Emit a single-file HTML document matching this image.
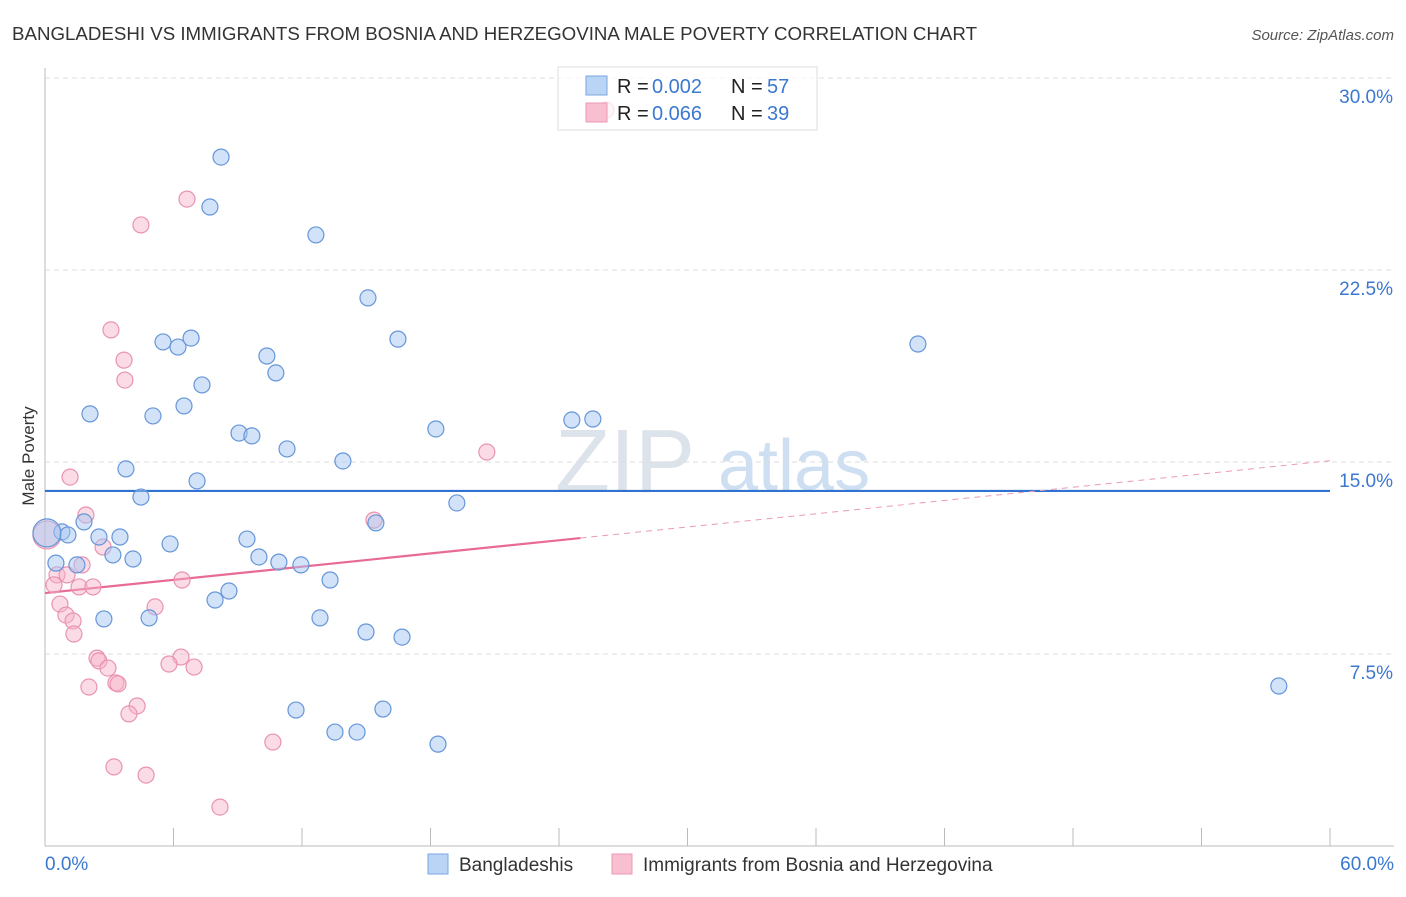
<!DOCTYPE html>
<html><head><meta charset="utf-8"><style>
body{margin:0;background:#fff;font-family:"Liberation Sans",sans-serif;}
svg text{font-family:"Liberation Sans",sans-serif;}
</style></head><body>
<svg id="chart" width="1406" height="892">
<text x="12" y="40" font-size="18" fill="#333" textLength="965" lengthAdjust="spacingAndGlyphs">BANGLADESHI VS IMMIGRANTS FROM BOSNIA AND HERZEGOVINA MALE POVERTY CORRELATION CHART</text>
<text x="1394" y="40" font-size="15" fill="#555" font-style="italic" text-anchor="end">Source: ZipAtlas.com</text>
<text x="34" y="456" font-size="17" fill="#333" text-anchor="middle" transform="rotate(-90 34 456)">Male Poverty</text>
<text x="555" y="492" font-size="90" fill="#dde3ea" font-family="Liberation Serif">ZIP</text>
<text x="718" y="490" font-size="72" fill="#cfdff2">atlas</text>
<g id="grid"></g><g id="axes"></g><g id="lines"></g><g id="pts"></g>
<g>
<rect x="558" y="67" width="259" height="63" fill="rgba(255,255,255,0.75)" stroke="#ddd"/>
<rect x="586" y="76" width="21" height="19" fill="#b9d4f5" stroke="#7aa6e0"/>
<rect x="586" y="103" width="21" height="19" fill="#f7bfd0" stroke="#eb9ab4"/>
<text x="617" y="93" font-size="20" fill="#222">R =</text><text x="652" y="93" font-size="20" fill="#3b78d0">0.002</text>
<text x="731" y="93" font-size="20" fill="#222">N =</text><text x="767" y="93" font-size="20" fill="#3b78d0">57</text>
<text x="617" y="120" font-size="20" fill="#222">R =</text><text x="652" y="120" font-size="20" fill="#3b78d0">0.066</text>
<text x="731" y="120" font-size="20" fill="#222">N =</text><text x="767" y="120" font-size="20" fill="#3b78d0">39</text>
</g>
<g>
<rect x="428" y="854" width="20" height="20" fill="#b9d4f5" stroke="#7aa6e0"/>
<text x="459" y="871" font-size="19" fill="#333">Bangladeshis</text>
<rect x="612" y="854" width="20" height="20" fill="#f7bfd0" stroke="#eb9ab4"/>
<text x="643" y="871" font-size="19" fill="#333">Immigrants from Bosnia and Herzegovina</text>
</g>
</svg>
<script>
const yTicks=[7.5,15,22.5,30];
const yTickLabels=["7.5%","15.0%","22.5%","30.0%"];
const blueX=[8.22,7.70,12.65,15.08,16.48,40.76,5.51,6.21,6.82,10.36,10.78,7.33,2.10,5.04,6.49,9.06,9.66,11.30,13.91,18.25,24.60,25.58,3.78,7.10,4.48,19.23,1.82,15.45,0.79,1.07,2.52,3.50,9.43,5.84,3.17,4.11,9.99,10.92,11.95,0.51,1.49,13.31,8.59,7.94,2.75,4.86,12.84,14.99,16.67,11.72,15.78,13.54,14.57,18.35,57.61,0.09];
const blueY=[26.91,24.96,23.87,21.41,19.80,19.61,19.69,19.49,19.84,19.14,18.48,18.01,16.88,16.80,17.19,16.13,16.02,15.51,15.04,16.29,16.64,16.68,14.73,14.26,13.63,13.40,12.66,12.62,12.27,12.15,12.07,12.07,11.99,11.80,11.37,11.21,11.29,11.09,10.98,11.05,10.98,10.39,9.96,9.61,8.87,8.91,8.91,8.36,8.16,5.31,5.35,4.45,4.45,3.98,6.25,12.23];
const pinkX=[26.19,6.63,4.48,3.08,3.69,3.73,1.17,20.63,1.91,15.36,2.71,1.73,0.56,1.03,0.42,1.59,2.24,6.40,0.70,5.14,0.98,1.31,1.35,2.43,2.52,2.94,6.35,5.79,6.96,2.05,3.31,3.41,4.30,3.92,10.64,3.22,4.72,8.17,0.09];
const pinkY=[28.75,25.27,24.26,20.16,18.98,18.20,14.41,15.39,12.93,12.73,11.68,10.98,10.59,10.59,10.20,10.12,10.12,10.39,9.45,9.34,9.02,8.79,8.28,7.34,7.23,6.95,7.38,7.11,6.99,6.21,6.37,6.33,5.47,5.16,4.06,3.09,2.77,1.52,12.15];
const blueTrend=[13.87,13.87];
const pinkTrend=[9.88,12.03,15.05];
const X=v=>45+v*1285/60, Y=v=>846-v*25.6;
const NS="http://www.w3.org/2000/svg";
function mk(t,a,p){const e=document.createElementNS(NS,t);for(const k in a)e.setAttribute(k,a[k]);p.appendChild(e);return e;}
const grid=document.getElementById('grid'),axes=document.getElementById('axes'),lines=document.getElementById('lines'),pts=document.getElementById('pts');
[...yTicks].forEach((t,i)=>{
 const l=mk('line',{x1:45,x2:1394,y1:Y(t),y2:Y(t),stroke:'#ddd','stroke-dasharray':'5,4'},grid);
 
 
 const tx=mk('text',{x:1393,y:Y(t)+25,'font-size':19,fill:'#3b78d0','text-anchor':'end'},axes);
 tx.textContent=yTickLabels[i];
 
 
});
const ax=mk('line',{x1:45,x2:1394,y1:846,y2:846,stroke:'#bbb'},axes);


const ay=mk('line',{x1:45,x2:45,y1:68,y2:846,stroke:'#bbb'},axes);


for(let v=0;v<=60;v+=6){const tk=mk('line',{x1:X(v),x2:X(v),y1:828,y2:846,stroke:'#bbb'},axes);
 
 }
const x0=mk('text',{x:45,y:870,'font-size':19,fill:'#3b78d0'},axes);x0.textContent='0.0%';


const x1=mk('text',{x:1394,y:870,'font-size':19,fill:'#3b78d0','text-anchor':'end'},axes);x1.textContent='60.0%';


function dot(x,y,r,fill,stroke,name){const c=mk('circle',{cx:X(x),cy:Y(y),r:r,fill:fill,stroke:stroke,'stroke-width':1.2},pts);
 
 }
pinkX.forEach((x,i)=>dot(x,pinkY[i],i==pinkX.length-1?14:8,'rgba(246,178,200,0.45)','#e993b0','pink-point'));
blueX.forEach((x,i)=>dot(x,blueY[i],i==blueX.length-1?14:8,'rgba(165,198,242,0.5)','#6596d8','blue-point'));
const bl=mk('line',{x1:X(0),x2:X(60),y1:Y(blueTrend[0]),y2:Y(blueTrend[1]),stroke:'#2f72d0','stroke-width':2.2},lines);


const pl=mk('line',{x1:X(0),x2:X(25),y1:Y(pinkTrend[0]),y2:Y(pinkTrend[1]),stroke:'#e86a97','stroke-width':2.2},lines);


const pd=mk('line',{x1:X(25),x2:X(60),y1:Y(pinkTrend[1]),y2:Y(pinkTrend[2]),stroke:'#e99ab5','stroke-width':1,'stroke-dasharray':'6,5'},lines);


</script>
</body></html>
